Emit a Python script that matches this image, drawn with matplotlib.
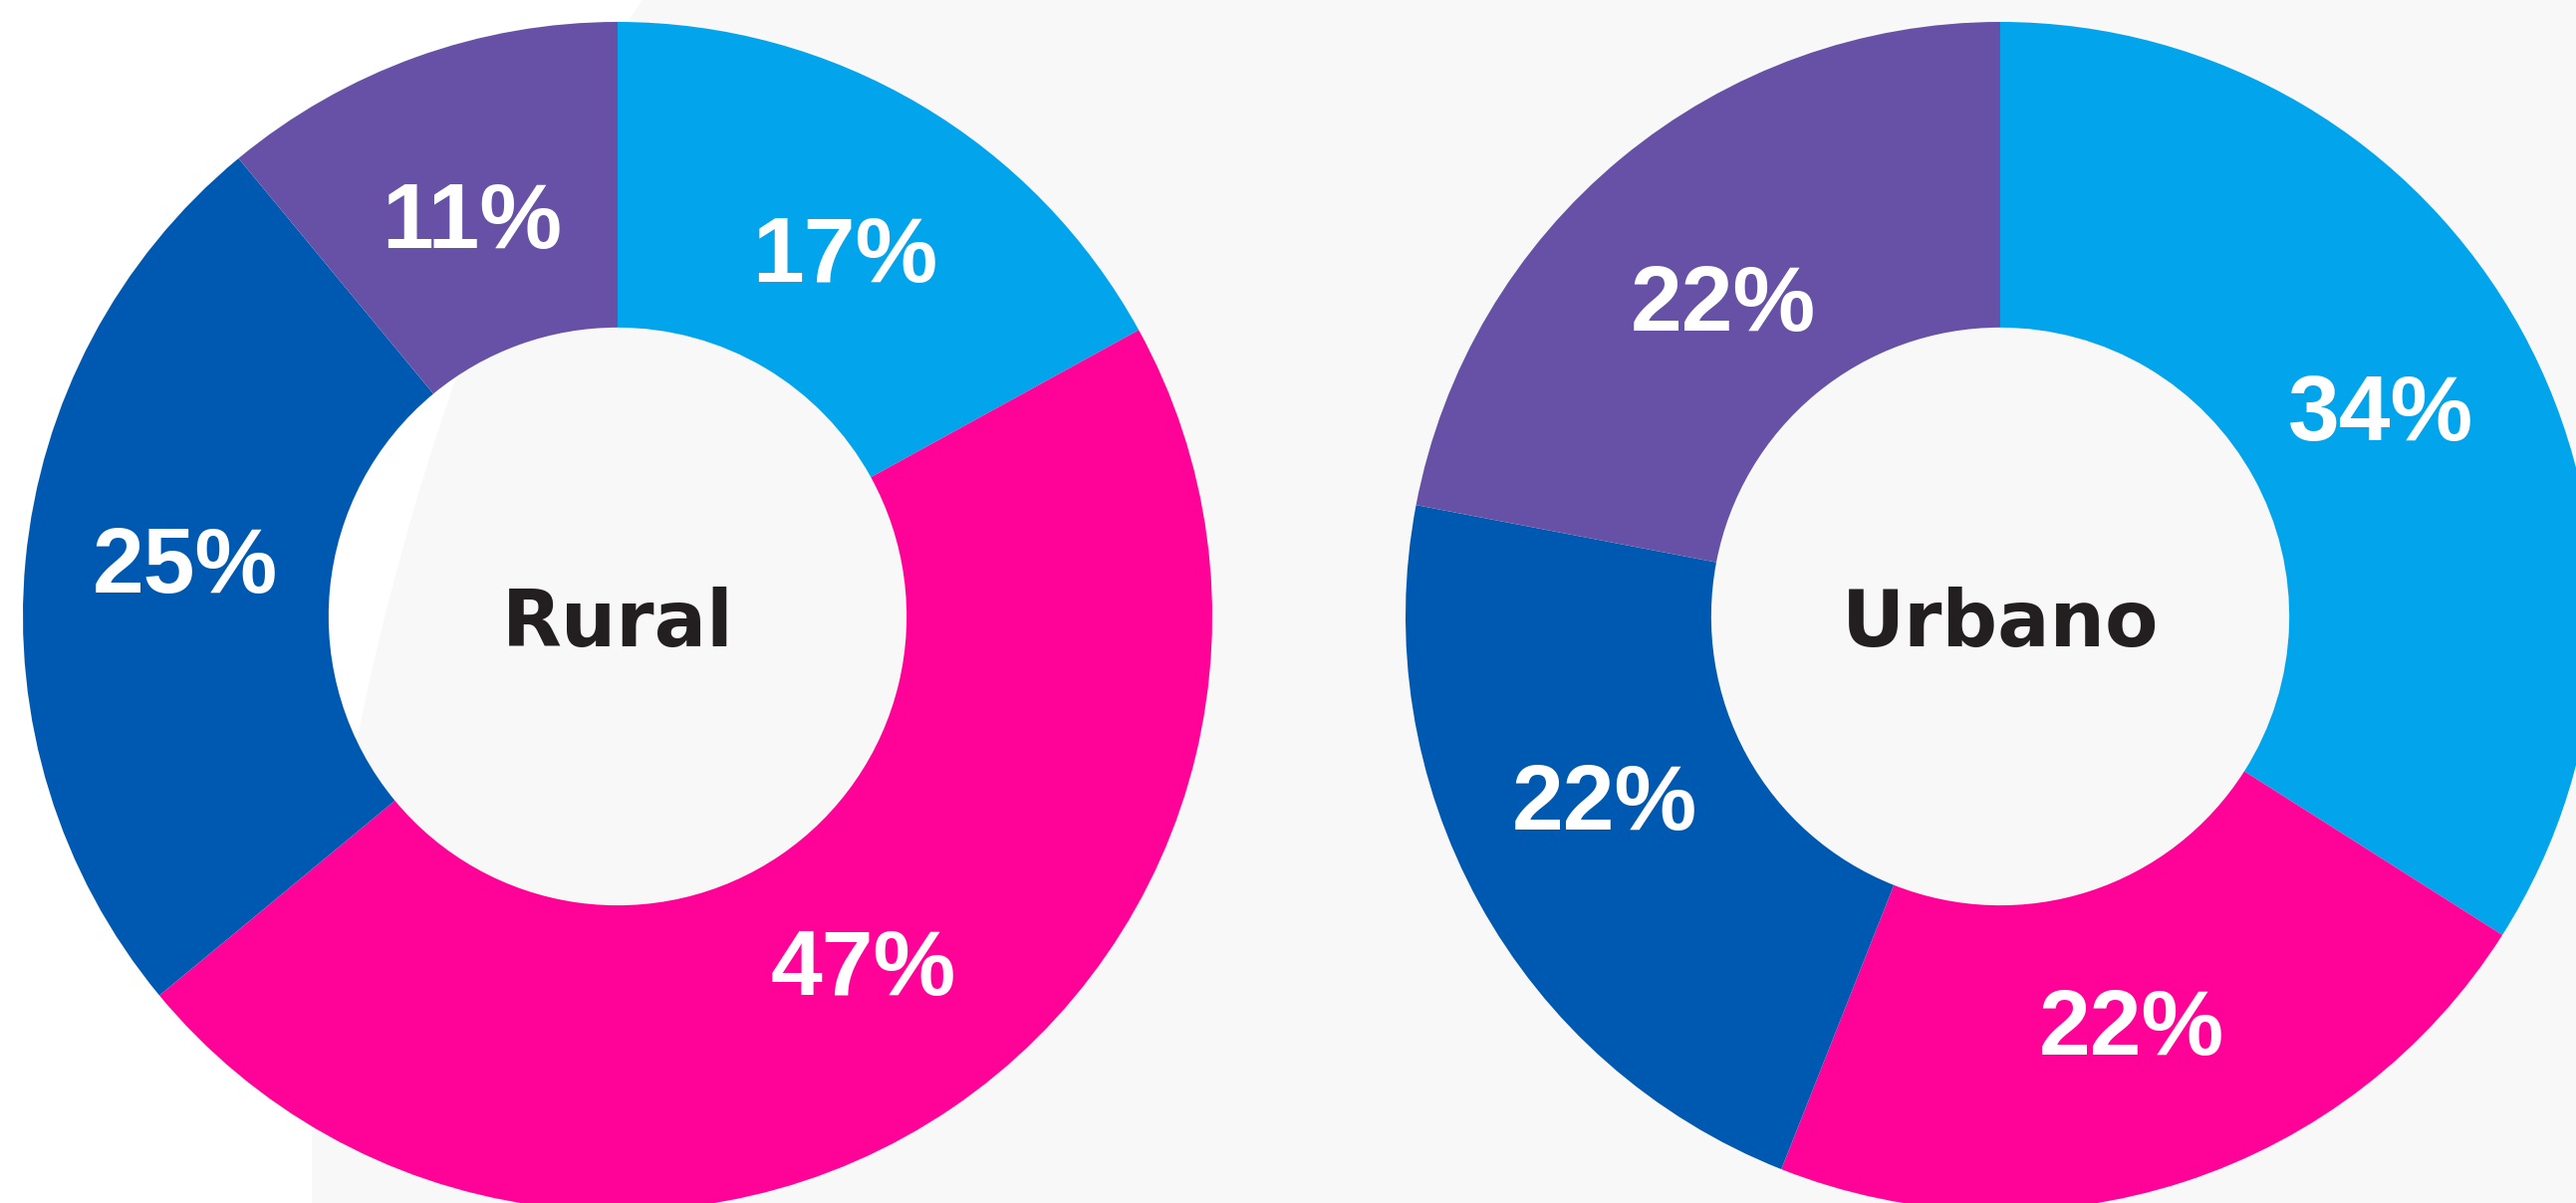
import matplotlib.pyplot as plt
from matplotlib.path import Path
from matplotlib.patches import PathPatch

# data
rural_vals = [17, 47, 25, 11]
urbano_vals = [34, 22, 22, 22]
colors = ['#02a5eb', '#ff0399', '#0059b1', '#6651a6']
titles = ['Rural', 'Urbano']

# small hand nudges of the % labels (axes data units), as in the original
rural_nudge = [(0.010, -0.011), (0.003, 0.022), (0.0, 0.026), (0.003, -0.012)]
urbano_nudge = [(0.0, 0.0), (-0.005, 0.013), (-0.026, 0.049), (0.0, -0.026)]

W, H = 2586, 1208
fig = plt.figure(figsize=(W / 100, H / 100), dpi=100, facecolor='white')

# light gray backdrop with a curved left edge (pixel coords, y from top)
def fp(x, y):
    return (x / W, 1 - y / H)

verts = [fp(645, 0), fp(430, 300), fp(313, 850), fp(313, 1130),
         fp(313, H), fp(W, H), fp(W, 0), fp(645, 0)]
codes = [Path.MOVETO, Path.CURVE4, Path.CURVE4, Path.CURVE4,
         Path.LINETO, Path.LINETO, Path.LINETO, Path.CLOSEPOLY]
bg = PathPatch(Path(verts, codes), facecolor='#f8f8f8', edgecolor='none',
               transform=fig.transFigure, zorder=-1)
fig.patches.append(bg)

R = 597        # outer radius in px
cy = H - 619   # center y from bottom
centers = [620, 2008]

for vals, nudge, title, cx in zip([rural_vals, urbano_vals],
                                  [rural_nudge, urbano_nudge], titles, centers):
    ax = fig.add_axes([(cx - R) / W, (cy - R) / H, 2 * R / W, 2 * R / H])
    ax.set_facecolor('none')
    wedges, texts, autotexts = ax.pie(
        vals, colors=colors, startangle=90, counterclock=False,
        autopct='%.0f%%', pctdistance=0.73, radius=1,
        wedgeprops=dict(width=0.514, edgecolor='none', linewidth=0),
        textprops=dict(color='white', fontsize=67, fontweight='bold',
                       family='Liberation Sans'))
    # put the cap height centre on the label point
    for t, (dx, dy) in zip(autotexts, nudge):
        x, y = t.get_position()
        t.set_position((x + dx, y + dy - 0.055))
        t.set_ha('center')
        t.set_va('baseline')
    ax.text(0, -0.05, title, ha='center', va='baseline', fontsize=56,
            fontweight='bold', color='#231f20', family='DejaVu Sans')
    ax.set_xlim(-1, 1)
    ax.set_ylim(-1, 1)
    ax.set_aspect('equal')
    ax.axis('off')

fig.savefig('out.png', dpi=100, facecolor=fig.get_facecolor())
